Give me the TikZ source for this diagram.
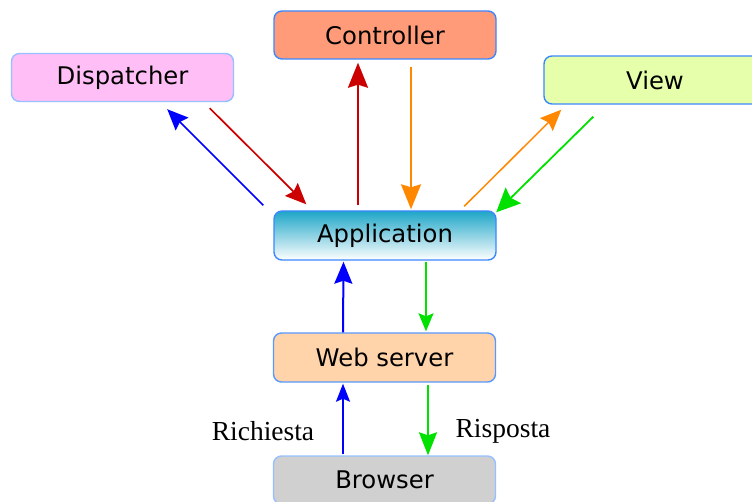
\documentclass[tikz,border=0pt]{standalone}
\usepackage{fontspec}
\setmainfont{DejaVu Sans}
\newfontfamily\labelfont{Liberation Serif}
\usetikzlibrary{arrows.meta,calc}

\definecolor{ctrlfill}{RGB}{255,155,120}
\definecolor{dispfill}{RGB}{255,190,245}
\definecolor{viewfill}{RGB}{230,255,170}
\definecolor{webfill}{RGB}{255,212,170}
\definecolor{browfill}{RGB}{208,208,208}
\definecolor{apptop}{RGB}{30,166,200}
\definecolor{edgeblue}{RGB}{60,135,255}
\definecolor{edgelight}{RGB}{150,192,255}
\definecolor{arrblue}{RGB}{0,0,255}
\definecolor{arrred}{RGB}{204,0,0}
\definecolor{arrorange}{RGB}{255,136,0}
\definecolor{arrgreen}{RGB}{0,225,0}

\tikzset{
  box/.style={rounded corners=8pt, line width=1.4pt, minimum width=222pt,
    minimum height=48pt, inner sep=0pt,
    font=\fontsize{24.3}{29}\selectfont},
  conn/.style={line width=#1},
  conn/.default=1.8pt,
  lbl/.style={font=\labelfont\fontsize{27.5}{32}\selectfont, inner sep=0pt},
}

\begin{document}
\begin{tikzpicture}[x=1pt,y=-1pt]
\useasboundingbox (0,0) rectangle (752,502);
\begin{scope}
\clip (0,0) rectangle (752,502);

% component boxes
\node[box, draw=edgeblue, fill=ctrlfill] (ctrl) at (385,35) {Controller};
\node[box, draw=edgelight, fill=dispfill] (disp) at (122.5,77.5) {Dispatcher};
\node[box, draw=edgeblue, fill=viewfill] (view) at (655,80) {View};
\node[box, draw=edgeblue, top color=apptop, bottom color=white,
      minimum height=49pt] (app) at (385,235.5) {Application};
\node[box, draw=edgeblue!85!white, fill=webfill, minimum height=49pt] (web) at (384.5,357.5) {Web server};
\node[box, draw=edgelight, fill=browfill] (brow) at (384.5,480) {Browser};

% Application <-> Dispatcher
\draw[conn=1.7pt, arrblue, -{Stealth[length=21pt,width=18pt,inset=3pt]}]
  ([shift={(-10,-5)}]app.north west) -- ([shift={(-67,7)}]disp.south east);
\draw[conn=1.7pt, arrred, -{Stealth[length=21pt,width=18pt,inset=3pt]}]
  ([shift={(-24.5,6)}]disp.south east) -- ([shift={(33,-6)}]app.north west);

% Application <-> Controller
\draw[conn=2.2pt, arrred, -{Stealth[length=25pt,width=20pt,inset=3pt]}]
  ([shift={(-27,-5)}]app.north) -- ([shift={(-27,3)}]ctrl.south);
\draw[conn=1.7pt, arrorange, -{Stealth[length=25pt,width=20pt,inset=3pt]}]
  ([shift={(26,7)}]ctrl.south) -- ([shift={(26,-1)}]app.north);

% Application <-> View
\draw[conn=1.5pt, arrorange, -{Stealth[length=21pt,width=18pt,inset=3pt]}]
  ([shift={(-32.5,-4)}]app.north east) -- ([shift={(18,5)}]view.south west);
\draw[conn=1.8pt, arrgreen, -{Stealth[length=24pt,width=22pt,inset=3.5pt]}]
  ([shift={(50,12)}]view.south west) -- ([shift={(-0.5,2)}]app.north east);

% Application <-> Web server
\draw[conn=2pt, arrblue, -{Stealth[length=22pt,width=18pt,inset=3pt]}]
  ([shift={(-41.5,0)}]web.north) -- ([shift={(-41.5,1)}]app.south);
\draw[conn=1.4pt, arrgreen, -{Stealth[length=18pt,width=15pt,inset=3pt]}]
  ([shift={(41,1)}]app.south) -- ([shift={(41.5,-1)}]web.north);

% Web server <-> Browser
\draw[conn=1.8pt, arrblue, -{Stealth[length=18pt,width=14pt,inset=3pt]}]
  ([shift={(-41.5,-1)}]brow.north) -- ([shift={(-41.5,1)}]web.south);
\draw[conn=2pt, arrgreen, -{Stealth[length=23pt,width=18pt,inset=3pt]}]
  ([shift={(43.5,2)}]web.south) -- ([shift={(43.5,0)}]brow.north);

% request / response labels
\node[lbl] (req) at (263,431) {Richiesta};
\node[lbl] (resp) at (503,431) {Risposta};
\end{scope}
\end{tikzpicture}
\end{document}
